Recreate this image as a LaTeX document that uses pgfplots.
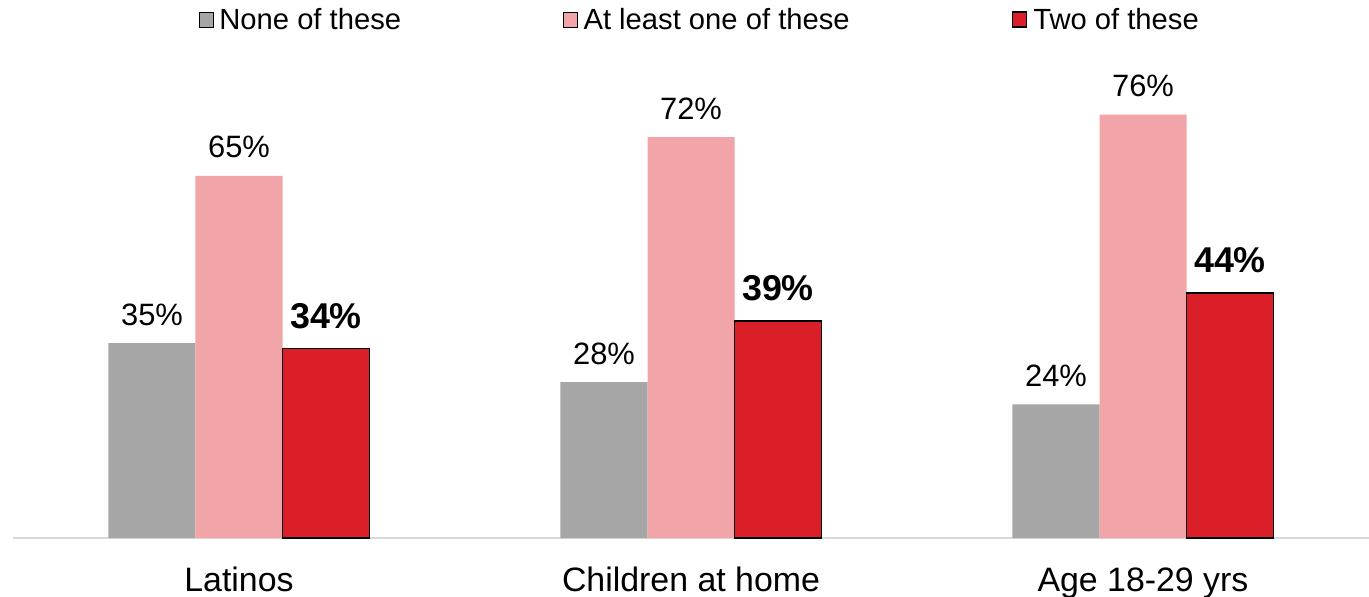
\documentclass[border=0pt]{standalone}
\usepackage{pgfplots}
\pgfplotsset{compat=1.18}
\usepackage{fontspec}
\setmainfont{Liberation Sans}
\definecolor{cgray}{HTML}{A6A6A6}
\definecolor{cpink}{HTML}{F2A5A8}
\definecolor{cred}{HTML}{DA1F28}
\definecolor{cline}{HTML}{D9D9D9}
\begin{document}
\begin{tikzpicture}
\begin{axis}[
  scale only axis, width=1356bp, height=538bp,
  xmin=-0.5, xmax=2.5, ymin=0, ymax=96.6,
  ybar, bar width=87bp,
  axis y line=none, axis x line*=bottom,
  x axis line style={cline, line width=1.6bp, -},
  xtick={0,1,2}, xticklabels={Latinos, Children at home, Age 18-29 yrs},
  major tick length=0pt,
  /pgf/number format/assume math mode=true,
  xticklabel style={font=\fontsize{34}{40}\selectfont, anchor=base, yshift=-53bp},
  point meta=y,
  nodes near coords={\pgfmathprintnumber{\pgfplotspointmeta}\%},
  every node near coord/.append style={anchor=base, inner sep=0pt, yshift=18bp, font=\fontsize{31}{36}\selectfont, text=black},
  legend columns=3,
  legend image code/.code={\draw[#1] (0bp,2bp) rectangle (14bp,17bp);},
  legend style={at={(rel axis cs:0,1)}, anchor=north west, xshift=186bp, yshift=-8bp,
    draw=none, fill=none, inner sep=0pt, outer sep=0pt,
    font=\fontsize{29.3}{34}\selectfont,
    cells={anchor=base west},
    nodes={inner sep=0pt, outer sep=0pt},
    /tikz/every odd column/.append style={column sep=6bp},
    /tikz/every even column/.append style={column sep=162bp}},
]
\coordinate (O) at (rel axis cs:0,0);
\addplot[fill=cgray, draw=none, bar shift=-87bp] coordinates {(0,35) (1,28) (2,24)};
\addplot[fill=cpink, draw=none, bar shift=0bp] coordinates {(0,65) (1,72) (2,76)};
\addplot[fill=cred, draw=black, line width=1.6bp, bar shift=87bp,
  every node near coord/.append style={font=\bfseries\fontsize{36}{40}\selectfont, yshift=2bp}] coordinates {(0,34) (1,39) (2,44)};
\legend{None of these, At least one of these, Two of these}
\end{axis}
\pgfresetboundingbox
\path[use as bounding box] (O) ++(-13bp,-59bp) rectangle ++(1369bp,597bp);
\end{tikzpicture}
\end{document}
